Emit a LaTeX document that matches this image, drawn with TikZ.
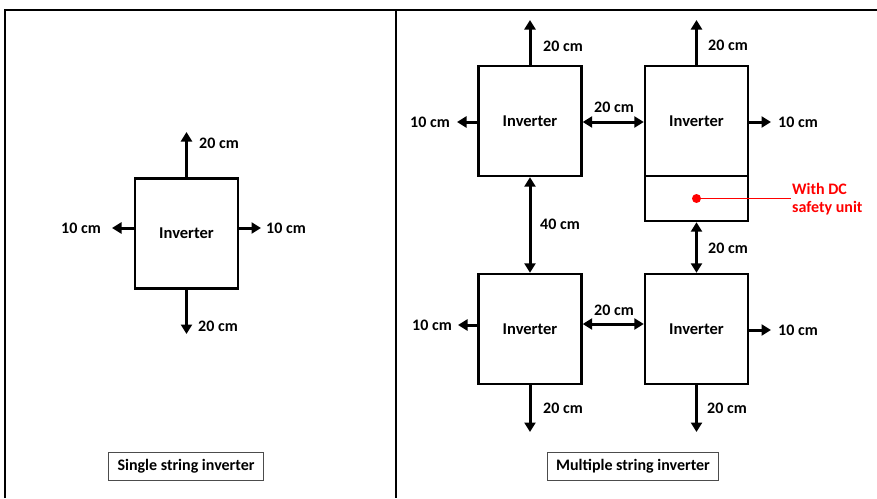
\documentclass[tikz,border=0pt]{standalone}
\usepackage{fontspec}
\setmainfont{Carlito}
\usetikzlibrary{arrows.meta}
\begin{document}
\begin{tikzpicture}[x=1pt,y=-1pt,
  inv/.style={draw,line width=2.4pt,minimum width=103pt,minimum height=110pt,inner sep=0pt,font=\fontsize{16.5}{18}\selectfont\bfseries},
  lbl/.style={font=\fontsize{16}{18}\selectfont\bfseries,inner sep=1pt},
  arr/.style={line width=3pt,-{Triangle[width=11pt,length=9.5pt]}},
  darr/.style={line width=3pt,{Triangle[width=11pt,length=9.5pt]}-{Triangle[width=11pt,length=9.5pt]}},
  capbox/.style={draw=black!70,line width=0.8pt,font=\fontsize{16}{18}\selectfont\bfseries,inner xsep=9pt,minimum height=28pt}]
\useasboundingbox (0,0) rectangle (877,498);
% frame
\draw[line width=1.8pt] (5,498) -- (5,10) -- (877,10);
\draw[line width=1.8pt] (396,10) -- (396,498);
% single inverter
\node[inv] (s) at (186.5,233.5) {Inverter};
\coordinate (sN) at (186.5,132);
\coordinate (sS) at (186.5,334);
\coordinate (sW) at (112,228);
\coordinate (sE) at (261,228);
\draw[arr] (s.north) -- (sN);
\draw[arr] (s.south) -- (sS);
\draw[arr] (s.west |- sW) -- (sW);
\draw[arr] (s.east |- sE) -- (sE);
\node[lbl] (sNl) at (219,143) {20 cm};
\node[lbl] (sSl) at (218,326) {20 cm};
\node[lbl] (sWl) at (81,228) {10 cm};
\node[lbl] (sEl) at (286,228) {10 cm};
% multiple
\node[inv] (tl) at (530,121) {Inverter};
\node[inv] (tr) at (696.5,121) {Inverter};
\node[draw,line width=2.4pt,minimum width=103pt,minimum height=45pt,inner sep=0pt] (trd) at (696.5,198.5) {};
\node[inv] (bl) at (530,329) {Inverter};
\node[inv] (br) at (696.5,329) {Inverter};
\coordinate (tlN) at (530,20);
\coordinate (trN) at (696.5,20);
\coordinate (tlW) at (457,122);
\coordinate (trE) at (771,122);
\coordinate (blW) at (458,325);
\coordinate (brE) at (771,330);
\coordinate (blS) at (530,432);
\coordinate (brS) at (696.5,432);
\draw[arr] (tl.north) -- (tlN);
\draw[arr] (tr.north) -- (trN);
\draw[arr] (tl.west |- tlW) -- (tlW);
\draw[arr] (tr.east |- trE) -- (trE);
\draw[darr] (tl.east |- 0,122) -- (tr.west |- 0,122);
\draw[darr] (tl.south) -- (bl.north);
\draw[darr] (trd.south) -- (br.north);
\draw[darr] (bl.east |- 0,324) -- (br.west |- 0,324);
\draw[arr] (bl.west |- blW) -- (blW);
\draw[arr] (br.east |- brE) -- (brE);
\draw[arr] (bl.south) -- (blS);
\draw[arr] (br.south) -- (brS);
\node[lbl] (l1) at (563,46) {20 cm};
\node[lbl] (l2) at (728,45) {20 cm};
\node[lbl] (l3) at (430,122) {10 cm};
\node[lbl] (l4) at (614,107) {20 cm};
\node[lbl] (l5) at (798,122) {10 cm};
\node[lbl] (l6) at (560,224) {40 cm};
\node[lbl] (l7) at (728,248) {20 cm};
\node[lbl] (l8) at (432,325) {10 cm};
\node[lbl] (l9) at (614,310) {20 cm};
\node[lbl] (l10) at (798,330) {10 cm};
\node[lbl] (l11) at (563,408) {20 cm};
\node[lbl] (l12) at (727,408) {20 cm};
% DC safety unit
\fill[red] (trd.center) circle (4.5pt) coordinate (dot);
\node[lbl,text=red,anchor=west,align=left] (dc) at (791,199) {With DC\\safety unit};
\draw[red,line width=1.6pt] (trd.center) -- (dc.west |- trd.center);
% captions
\node[capbox] (c1) at (186,466) {Single string inverter};
\node[capbox] (c2) at (633,466) {Multiple string inverter};
\end{tikzpicture}
\end{document}
